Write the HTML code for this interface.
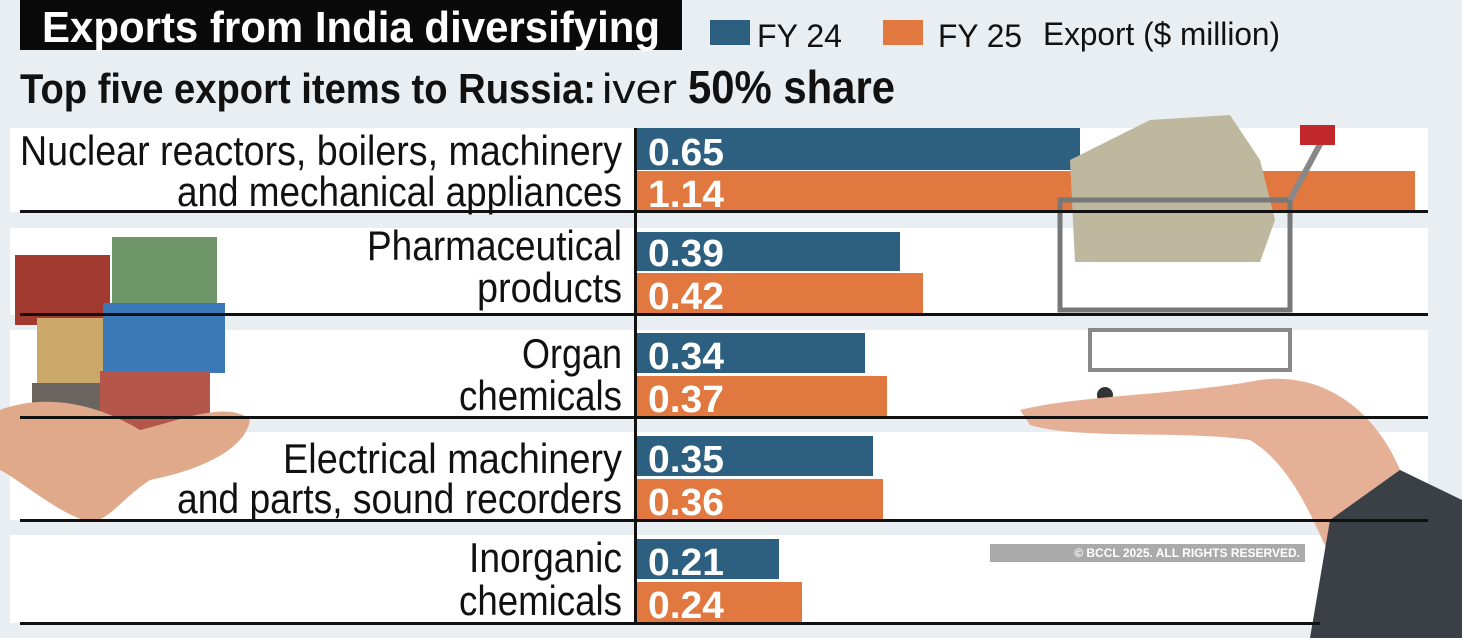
<!DOCTYPE html>
<html><head><meta charset="utf-8"><style>
html,body{margin:0;padding:0;width:1462px;height:638px;overflow:hidden;background:#eaeff3}
svg{display:block}
text{font-family:"Liberation Sans Narrow","Liberation Sans",sans-serif}
</style></head><body>
<svg width="1462" height="638" viewBox="0 0 1462 638">
<rect x="0" y="0" width="1462" height="638" fill="#e9eef2"/>
<rect x="10" y="128" width="1418" height="84" fill="#fff"/>
<rect x="10" y="228" width="1418" height="87" fill="#fff"/>
<rect x="10" y="330" width="1418" height="87" fill="#fff"/>
<rect x="10" y="432" width="1418" height="88" fill="#fff"/>
<rect x="10" y="535" width="1418" height="88" fill="#fff"/>
<rect x="20" y="0" width="662" height="50" fill="#0a0a0a"/>
<text x="42" y="42" font-size="44" font-weight="bold" fill="#fff" textLength="618" lengthAdjust="spacingAndGlyphs">Exports from India diversifying</text>
<rect x="710" y="20" width="40" height="25" fill="#2d5f80"/>
<text x="757" y="47" font-size="32" fill="#111" textLength="85" lengthAdjust="spacingAndGlyphs">FY 24</text>
<rect x="883" y="20" width="40" height="25" fill="#e07840"/>
<text x="938" y="47" font-size="32" fill="#111" textLength="84" lengthAdjust="spacingAndGlyphs">FY 25</text>
<text x="1043" y="45" font-size="32" fill="#111" textLength="237" lengthAdjust="spacingAndGlyphs">Export ($ million)</text>
<text x="20" y="103" font-size="42" font-weight="bold" fill="#111" textLength="576" lengthAdjust="spacingAndGlyphs">Top five export items to Russia:</text>
<text x="602" y="103" font-size="42" fill="#111" textLength="75" lengthAdjust="spacingAndGlyphs">iver</text>
<text x="688" y="103" font-size="46" font-weight="bold" fill="#111" textLength="207" lengthAdjust="spacingAndGlyphs">50% share</text>
<g>
<rect x="15" y="255" width="95" height="70" fill="#a33a30"/>
<rect x="112" y="237" width="105" height="70" fill="#6f9668"/>
<rect x="37" y="318" width="70" height="72" fill="#c9a86a"/>
<rect x="103" y="303" width="122" height="70" fill="#3a78b8"/>
<rect x="32" y="383" width="70" height="42" fill="#6a6560"/>
<rect x="100" y="371" width="110" height="75" fill="#b5564a"/>
<path d="M0 410 C40 395 90 400 140 430 C180 420 230 400 250 420 C245 450 200 470 150 480 C120 500 110 520 90 522 C60 515 20 480 0 470 Z" fill="#e0a98a"/>
</g>
<rect x="634" y="128" width="3" height="496" fill="#111"/>
<rect x="637" y="128" width="443" height="42" fill="#2d5f80"/>
<rect x="637" y="171" width="778" height="40" fill="#e07840"/>
<rect x="637" y="232" width="263" height="39" fill="#2d5f80"/>
<rect x="637" y="273" width="286" height="40" fill="#e07840"/>
<rect x="637" y="333" width="228" height="40" fill="#2d5f80"/>
<rect x="637" y="376" width="250" height="40" fill="#e07840"/>
<rect x="637" y="436" width="236" height="40" fill="#2d5f80"/>
<rect x="637" y="479" width="246" height="40" fill="#e07840"/>
<rect x="637" y="539" width="142" height="40" fill="#2d5f80"/>
<rect x="637" y="582" width="165" height="40" fill="#e07840"/>
<g>
<path d="M1070 160 L1150 120 L1230 115 L1260 160 L1275 220 L1260 262 L1075 262 Z" fill="#bdb89e"/>
<rect x="1060" y="200" width="230" height="110" fill="none" stroke="#777" stroke-width="5"/>
<line x1="1290" y1="200" x2="1325" y2="135" stroke="#888" stroke-width="6"/>
<rect x="1300" y="125" width="35" height="20" fill="#c0282c"/>
<rect x="1090" y="330" width="200" height="40" fill="none" stroke="#888" stroke-width="4"/>
<circle cx="1105" cy="395" r="8" fill="#333"/>
<circle cx="1275" cy="395" r="8" fill="#333"/>
<path d="M1020 410 C1080 395 1180 395 1260 380 C1330 370 1390 420 1410 500 L1350 600 C1320 540 1300 470 1250 440 C1180 430 1080 440 1030 425 Z" fill="#e5b095"/>
<path d="M1330 520 L1400 470 L1462 500 L1462 638 L1310 638 Z" fill="#3b4046"/>
</g>
<rect x="20" y="210" width="740" height="3" fill="#111"/>
<rect x="760" y="210" width="668" height="3" fill="#111"/>
<rect x="20" y="313" width="1408" height="3" fill="#111"/>
<rect x="20" y="416" width="1408" height="3" fill="#111"/>
<rect x="20" y="519" width="1408" height="3" fill="#111"/>
<rect x="20" y="622" width="1300" height="3" fill="#111"/>
<g font-size="42" fill="#111" text-anchor="end">
<text x="622" y="165" textLength="602" lengthAdjust="spacingAndGlyphs">Nuclear reactors, boilers, machinery</text>
<text x="622" y="206" textLength="445" lengthAdjust="spacingAndGlyphs">and mechanical appliances</text>
<text x="622" y="260" textLength="255" lengthAdjust="spacingAndGlyphs">Pharmaceutical</text>
<text x="622" y="302" textLength="145" lengthAdjust="spacingAndGlyphs">products</text>
<text x="622" y="368" textLength="100" lengthAdjust="spacingAndGlyphs">Organ</text>
<text x="622" y="410" textLength="163" lengthAdjust="spacingAndGlyphs">chemicals</text>
<text x="622" y="473" textLength="339" lengthAdjust="spacingAndGlyphs">Electrical machinery</text>
<text x="622" y="513" textLength="445" lengthAdjust="spacingAndGlyphs">and parts, sound recorders</text>
<text x="622" y="572" textLength="153" lengthAdjust="spacingAndGlyphs">Inorganic</text>
<text x="622" y="615" textLength="163" lengthAdjust="spacingAndGlyphs">chemicals</text>
</g>
<g font-size="38" font-weight="bold" fill="#fff">
<text x="648" y="165" textLength="76" lengthAdjust="spacingAndGlyphs">0.65</text>
<text x="648" y="207" textLength="76" lengthAdjust="spacingAndGlyphs">1.14</text>
<text x="648" y="266" textLength="76" lengthAdjust="spacingAndGlyphs">0.39</text>
<text x="648" y="309" textLength="76" lengthAdjust="spacingAndGlyphs">0.42</text>
<text x="648" y="369" textLength="76" lengthAdjust="spacingAndGlyphs">0.34</text>
<text x="648" y="412" textLength="76" lengthAdjust="spacingAndGlyphs">0.37</text>
<text x="648" y="472" textLength="76" lengthAdjust="spacingAndGlyphs">0.35</text>
<text x="648" y="515" textLength="76" lengthAdjust="spacingAndGlyphs">0.36</text>
<text x="648" y="575" textLength="76" lengthAdjust="spacingAndGlyphs">0.21</text>
<text x="648" y="618" textLength="76" lengthAdjust="spacingAndGlyphs">0.24</text>
</g>
<rect x="990" y="544" width="315" height="18" fill="#aaa"/>
<text x="1300" y="557" font-size="12" font-weight="bold" fill="#fff" text-anchor="end">© BCCL 2025. ALL RIGHTS RESERVED.</text>
</svg>
</body></html>
